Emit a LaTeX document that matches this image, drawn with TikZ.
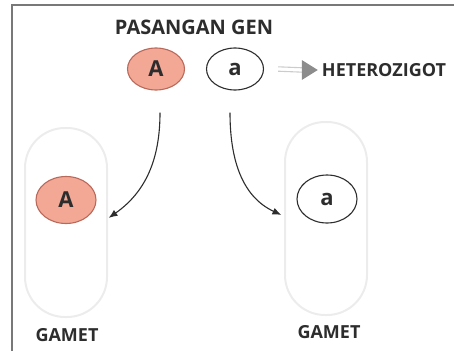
\documentclass[tikz,border=0pt]{standalone}
\usepackage{fontspec}
\setmainfont{Open Sans}
\usetikzlibrary{arrows.meta,shapes.geometric}
\definecolor{salmon}{RGB}{243,168,150}
\definecolor{salmonedge}{RGB}{185,105,90}
\definecolor{txt}{RGB}{45,45,45}
\definecolor{capsedge}{RGB}{236,236,236}
\definecolor{frameclr}{RGB}{120,120,120}
\tikzset{
  lbl/.style={text=txt, font=\bfseries\fontsize{18}{18}\selectfont, inner sep=0pt},
  alleleA/.style={ellipse, draw=salmonedge, fill=salmon, line width=1.1pt, text=txt,
    font=\bfseries\fontsize{22}{22}\selectfont, inner sep=0pt, minimum width=57pt, minimum height=42pt},
  allelea/.style={ellipse, draw=txt, fill=white, line width=1.1pt, text=txt,
    font=\bfseries\fontsize{22}{22}\selectfont, inner sep=0pt, minimum width=57pt, minimum height=42pt},
  capsule/.style={rectangle, draw=capsedge, line width=2pt, rounded corners=40pt,
    minimum width=82pt, inner sep=0pt},
  conn/.style={draw=txt, line width=1.1pt, -{Latex[length=9pt,width=7pt]}},
  dblline/.style={draw=black!20, line width=1.1pt},
  frame/.style={draw=frameclr, line width=1.5pt}
}
\begin{document}
\begin{tikzpicture}[x=1pt,y=-1pt]
\useasboundingbox (0,0) rectangle (454,351);
\draw[frame] (12,351) -- (12,5) -- (454,5);

% capsules
\node[capsule, minimum height=189pt] (cap1) at (66,222.5) {};
\node[capsule, minimum height=193pt] (cap2) at (326,218.5) {};

% title and parent alleles
\node[lbl, font=\bfseries\fontsize{20}{20}\selectfont] (title) at (194,27) {PASANGAN GEN};
\node[alleleA] (A) at (156,69) {A};
\node[allelea] (a) at (235,69) {a};
\node[lbl] (het) at (384,70) {HETEROZIGOT};

% double arrow to HETEROZIGOT
\coordinate (hs) at ([xshift=14pt]a.east);
\coordinate (he) at ([xshift=-4pt]het.west);
\draw[dblline] ([yshift=-2.2pt]hs) -- ([xshift=-15pt,yshift=-2.2pt]he);
\draw[dblline] ([yshift=2.2pt]hs) -- ([xshift=-15pt,yshift=2.2pt]he);
\fill[black!45] ([xshift=-16pt,yshift=-10pt]he) -- (he) -- ([xshift=-16pt,yshift=10pt]he) -- cycle;

% gamete alleles
\node[alleleA, minimum width=60pt, minimum height=47pt] (gA) at (66,200) {A};
\node[allelea, minimum width=60pt, minimum height=48pt] (ga) at (327,199) {a};

% curved arrows
\coordinate (s1) at ([xshift=4pt,yshift=-22pt]A.south);
\coordinate (e1) at ([xshift=12pt,yshift=-18pt]gA.east);
\draw[conn] (s1) to[out=-90, in=35] (e1);
\coordinate (s2) at ([xshift=-5pt,yshift=-22pt]a.south);
\coordinate (e2) at ([xshift=-15pt,yshift=-16pt]ga.west);
\draw[conn] (s2) to[out=-90, in=155] (e2);

% labels
\node[lbl] (g1) at (67,335) {GAMET};
\node[lbl] (g2) at (329,332) {GAMET};
\end{tikzpicture}
\end{document}
